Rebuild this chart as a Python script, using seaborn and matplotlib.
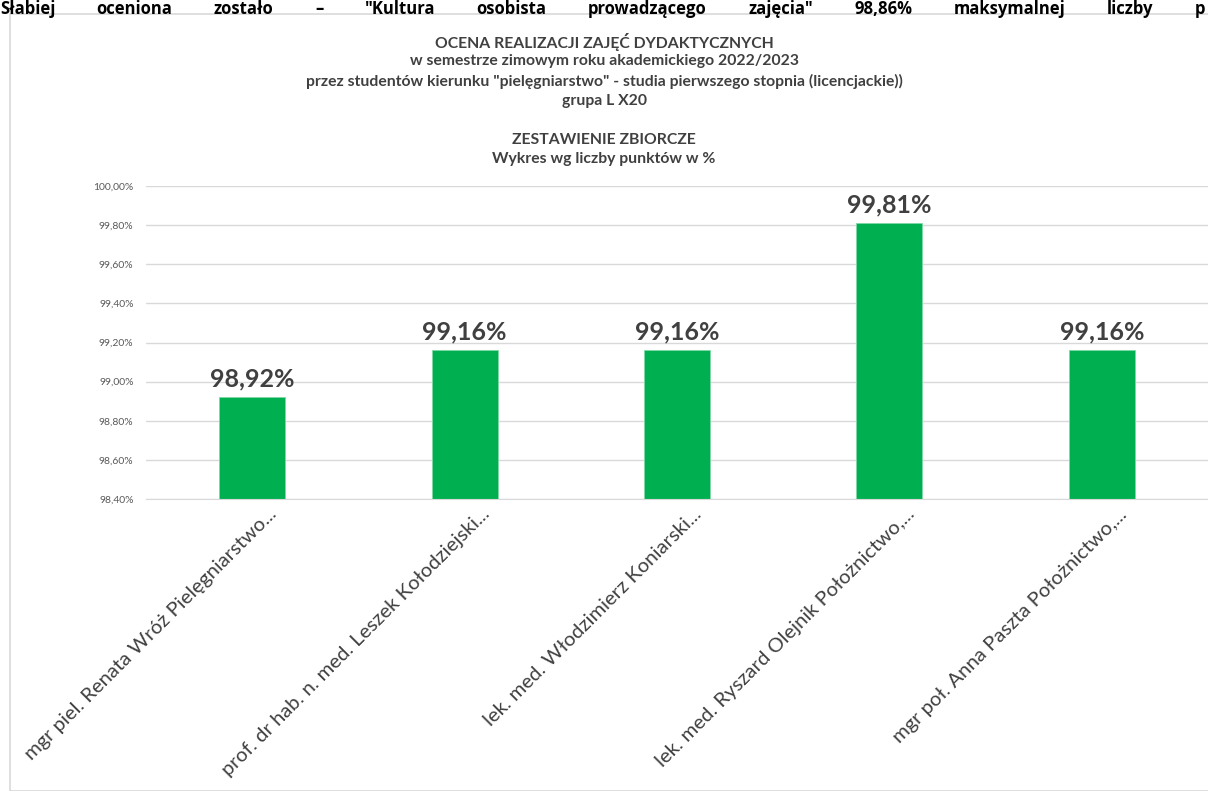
import matplotlib
matplotlib.use("Agg")
import matplotlib.pyplot as plt
import matplotlib.transforms as mtransforms
from matplotlib.patches import Rectangle
from matplotlib.ticker import FuncFormatter
import seaborn as sns
import pandas as pd

# Data
teachers = [
    "mgr piel. Renata Wróż Pielęgniarstwo...",
    "prof. dr hab. n. med. Leszek Kołodziejski...",
    "lek. med. Włodzimierz Koniarski...",
    "lek. med. Ryszard Olejnik Położnictwo,...",
    "mgr poł. Anna Paszta Położnictwo,...",
]
scores = [98.92, 99.16, 99.16, 99.81, 99.16]

title_lines = [
    "OCENA REALIZACJI ZAJĘĆ DYDAKTYCZNYCH",
    "w semestrze zimowym roku akademickiego 2022/2023",
    "przez studentów kierunku \"pielęgniarstwo\" - studia pierwszego stopnia (licencjackie))",
    "grupa L X20",
    "",
    "ZESTAWIENIE ZBIORCZE",
    "Wykres wg liczby punktów w %",
]
top_text = "Słabiej oceniona zostało – \"Kultura osobista prowadzącego zajęcia\" 98,86% maksymalnej liczby p"

df = pd.DataFrame({"teacher": teachers, "score": scores})

sns.set_style("white")
plt.rcParams["font.family"] = ["Lato", "DejaVu Sans"]

W, H = 1208, 791
fig = plt.figure(figsize=(W / 100, H / 100), dpi=100)

# chart frame
fig.patches.append(Rectangle((10 / W, 0), 1.2, 1 - 14 / H, transform=fig.transFigure,
                             fill=False, edgecolor="#d9d9d9", linewidth=1.2))

ax = fig.add_axes([146 / W, 1 - 499 / H, 1 - 146 / W, (499 - 186) / H])

sns.barplot(data=df, x="teacher", y="score", color="#00B050", saturation=1,
            width=0.31, edgecolor="#7fd8a6", linewidth=0.6, ax=ax)

ax.set_ylim(98.4, 100.0)
ax.set_yticks([98.4 + 0.2 * i for i in range(9)])
ax.yaxis.set_major_formatter(FuncFormatter(lambda v, p: f"{v:.2f}%".replace(".", ",")))
ax.grid(axis="y", color="#d9d9d9", linewidth=1)
ax.set_axisbelow(True)
for s in ["top", "right", "left"]:
    ax.spines[s].set_visible(False)
ax.spines["bottom"].set_color("#d9d9d9")
ax.tick_params(axis="y", length=0, labelsize=7.5, labelcolor="#595959", pad=9)
ax.tick_params(axis="x", length=0, labelsize=14.6, labelcolor="#404040", pad=4)
ax.set_xlabel("")
ax.set_ylabel("")

plt.setp(ax.get_xticklabels(), rotation=45, ha="right", rotation_mode="anchor")
offset = mtransforms.ScaledTranslation(16 / 100, -1 / 100, fig.dpi_scale_trans)
for lbl in ax.get_xticklabels():
    lbl.set_transform(lbl.get_transform() + offset)

ax.bar_label(ax.containers[0],
             labels=[f"{v:.2f}%".replace(".", ",") for v in scores],
             padding=5, fontsize=18, fontweight="bold", color="#404040")

y = 1 - 42 / H
for line in title_lines:
    if line:
        fig.text(0.5, y, line, ha="center", va="center", fontsize=11.3,
                 fontweight="bold", color="#404040")
    y -= 19.5 / H

# document line above the chart, justified across the full width
words = top_text.split(" ")
word_texts = [fig.text(0, 1, w, fontsize=12, fontweight="bold", family=["Open Sans", "DejaVu Sans"],
                       color="#000000", ha="left", va="top") for w in words]
fig.canvas.draw()
renderer = fig.canvas.get_renderer()
widths = [t.get_window_extent(renderer).width for t in word_texts]
gap = (W - 3 - sum(widths)) / (len(words) - 1)
xpos = 0.0
for t, w in zip(word_texts, widths):
    t.set_x(xpos / W)
    xpos += w + gap

fig.savefig("out.png", dpi=100)
